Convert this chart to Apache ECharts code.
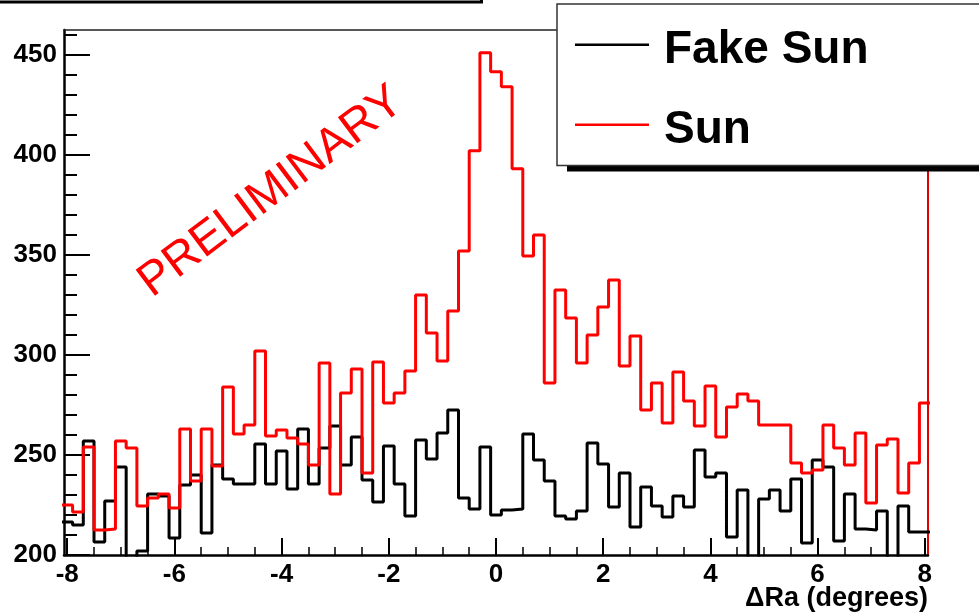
<!DOCTYPE html>
<html>
<head>
<meta charset="utf-8">
<script src="https://cdn.jsdelivr.net/npm/echarts@6/dist/echarts.min.js"></script>
<style>
  html, body { margin: 0; padding: 0; background: #fff; }
  #chart { width: 979px; height: 612px; }
</style>
</head>
<body>
<div id="chart"></div>
<script>
// Histogram bins: 81 bins of width 0.2 degrees, centred on multiples of 0.2
const BIN_WIDTH = 0.2;
const binCenters = [
  -8.0, -7.8, -7.6, -7.4, -7.2, -7.0, -6.8, -6.6, -6.4, -6.2,
  -6.0, -5.8, -5.6, -5.4, -5.2, -5.0, -4.8, -4.6, -4.4, -4.2,
  -4.0, -3.8, -3.6, -3.4, -3.2, -3.0, -2.8, -2.6, -2.4, -2.2,
  -2.0, -1.8, -1.6, -1.4, -1.2, -1.0, -0.8, -0.6, -0.4, -0.2,
   0.0,  0.2,  0.4,  0.6,  0.8,  1.0,  1.2,  1.4,  1.6,  1.8,
   2.0,  2.2,  2.4,  2.6,  2.8,  3.0,  3.2,  3.4,  3.6,  3.8,
   4.0,  4.2,  4.4,  4.6,  4.8,  5.0,  5.2,  5.4,  5.6,  5.8,
   6.0,  6.2,  6.4,  6.6,  6.8,  7.0,  7.2,  7.4,  7.6,  7.8,
   8.0
];

// Event counts per bin
const sunCounts = [
  225, 221.5, 254, 212.5, 213, 257, 253.5, 224.5, 228.5, 230.5,
  223.5, 263, 237, 263, 244.5, 284, 260.5, 265, 302, 259.5,
  262.5, 258.5, 255.5, 245, 296, 230.5, 281, 293, 241, 296.5,
  276, 281, 292, 330, 311, 297, 322, 352, 402, 451,
  441.5, 434, 393, 349.5, 360, 286, 332.5, 318.5, 296, 310,
  324, 337.5, 294.5, 309.5, 272.5, 286, 266, 291.5, 277, 264.5,
  284.5, 259, 274, 280.5, 277, 265, 265, 265, 246, 241,
  242.5, 265, 253.5, 245, 261, 226, 255, 258, 231, 246,
  276
];

const fakeSunCounts = [
  216.5, 215, 257, 206.5, 227, 244, 190, 202, 230.5, 229.5,
  208.5, 235, 240, 211, 245, 238, 235.5, 235.5, 255.5, 235.5,
  252, 233, 263, 235.5, 253.5, 264.5, 245, 259, 237.5, 226.5,
  254.5, 235.5, 219.5, 257.5, 248, 261, 272.5, 228.5, 223, 254,
  220, 222.5, 223, 260.5, 247.5, 237, 219.5, 218, 222, 256,
  245.5, 224, 241, 214, 234, 224.5, 219, 229.5, 224, 252.5,
  239, 241, 209, 232.5, 190, 228, 232.5, 222, 238, 206,
  247.5, 244, 207, 230.5, 213, 212.5, 222, 190, 224.5, 211.5,
  211.5
];

// Axis ticks
const xTickLabels = [-8, -6, -4, -2, 0, 2, 4, 6, 8];
const xMinorTicks = [-8, -7.5, -7, -6.5, -6, -5.5, -5, -4.5, -4, -3.5, -3, -2.5, -2, -1.5, -1, -0.5,
                     0, 0.5, 1, 1.5, 2, 2.5, 3, 3.5, 4, 4.5, 5, 5.5, 6, 6.5, 7, 7.5, 8];
const yTickLabels = [200, 250, 300, 350, 400, 450];
const yMinorTicks = [200, 210, 220, 230, 240, 250, 260, 270, 280, 290, 300, 310, 320, 330, 340,
                     350, 360, 370, 380, 390, 400, 410, 420, 430, 440, 450, 460];

const X_MIN = -8.06, X_MAX = 8.06;
const Y_MIN = 200, Y_MAX = 462.4;
const FONT = '"Liberation Sans", Arial, Helvetica, sans-serif';

// Turn per-bin counts into a stepped outline (left edge, right edge for every bin)
function stepOutline(counts) {
  const pts = [];
  counts.forEach((v, i) => {
    const lo = binCenters[i] - BIN_WIDTH / 2;
    const hi = binCenters[i] + BIN_WIDTH / 2;
    pts.push([lo, v], [hi, v]);
  });
  return pts;
}

const chart = echarts.init(document.getElementById('chart'), null, { renderer: 'canvas' });

const hiddenParts = {
  axisLabel: { show: false },
  splitLine: { show: false }
};

chart.setOption({
  animation: false,
  backgroundColor: '#fff',
  // x-axis title, right-aligned under the end of the axis
  title: {
    text: 'ΔRa (degrees)', right: 51, top: 585, padding: 0,
    textStyle: { color: '#000', fontSize: 27, fontWeight: 'bold', fontFamily: FONT }
  },
  grid: { left: 64, right: 51, top: 30, bottom: 57, containLabel: false, outerBoundsMode: 'none' },
  xAxis: [
    {
      type: 'value', position: 'bottom', min: X_MIN, max: X_MAX,
      axisLine: { show: true, onZero: false, lineStyle: { color: '#000', width: 2.5 } },
      axisTick: { show: true, inside: true, length: 17, customValues: xTickLabels,
                  lineStyle: { color: '#000', width: 2 } },
      axisLabel: { show: true, customValues: xTickLabels, margin: 7, color: '#000',
                   fontSize: 26, fontWeight: 'bold', fontFamily: FONT },
      splitLine: { show: false }
    },
    {
      type: 'value', position: 'bottom', min: X_MIN, max: X_MAX,
      axisLine: { show: false, onZero: false },
      axisTick: { show: true, inside: true, length: 8, customValues: xMinorTicks,
                  lineStyle: { color: '#000', width: 1.5 } },
      ...hiddenParts
    },
    {
      type: 'value', position: 'top', min: X_MIN, max: X_MAX,
      axisLine: { show: true, onZero: false, lineStyle: { color: '#222', width: 1.5 } },
      axisTick: { show: false },
      ...hiddenParts
    }
  ],
  yAxis: [
    {
      type: 'value', position: 'left', min: Y_MIN, max: Y_MAX,
      axisLine: { show: true, onZero: false, lineStyle: { color: '#000', width: 2.5 } },
      axisTick: { show: true, inside: true, length: 26, customValues: yTickLabels,
                  lineStyle: { color: '#000', width: 2 } },
      axisLabel: { show: true, customValues: yTickLabels, margin: 7, color: '#000',
                   fontSize: 26, fontWeight: 'bold', fontFamily: FONT },
      splitLine: { show: false }
    },
    {
      type: 'value', position: 'left', min: Y_MIN, max: Y_MAX,
      axisLine: { show: false, onZero: false },
      axisTick: { show: true, inside: true, length: 13, customValues: yMinorTicks,
                  lineStyle: { color: '#000', width: 2 } },
      ...hiddenParts
    },
    {
      type: 'value', position: 'right', min: Y_MIN, max: Y_MAX,
      axisLine: { show: true, onZero: false, lineStyle: { color: '#e00000', width: 2 } },
      axisTick: { show: false },
      ...hiddenParts
    }
  ],
  legend: {
    orient: 'vertical', left: 570, top: 20, z: 10,
    // line sample sitting a little above the middle of the label
    icon: 'path://M0,0H74V2.5H0Z M0,12.9H0.05V13H0Z',
    itemWidth: 74, itemHeight: 13, itemGap: 30,
    selectedMode: false,
    textStyle: { fontSize: 46, fontWeight: 'bold', color: '#000', fontFamily: FONT,
                 lineHeight: 50, padding: [0, 0, 0, 10] },
    data: ['Fake Sun', 'Sun']
  },
  graphic: [
    { type: 'rect', z: 3, shape: { x: -10, y: -40, width: 491.5, height: 42 },
      style: { fill: '#fff', stroke: '#000', lineWidth: 3 } },
    { type: 'rect', z: 3, shape: { x: 567, y: 165.5, width: 420, height: 6 },
      style: { fill: '#000' } },
    { type: 'rect', z: 3, shape: { x: 557, y: 4, width: 430, height: 161.5 },
      style: { fill: '#fff', stroke: '#333', lineWidth: 1.5 } },
    { type: 'text', z: 3, x: 271, y: 192, rotation: 37 * Math.PI / 180,
      style: { text: 'PRELIMINARY', fill: '#ff0000', font: '47px ' + FONT,
               align: 'center', verticalAlign: 'middle' } }
  ],
  series: [
    {
      name: 'Fake Sun', type: 'line', xAxisIndex: 0, yAxisIndex: 0,
      data: stepOutline(fakeSunCounts), symbol: 'none', clip: true,
      color: '#000', lineStyle: { color: '#000', width: 3 }
    },
    {
      name: 'Sun', type: 'line', xAxisIndex: 0, yAxisIndex: 0,
      data: stepOutline(sunCounts), symbol: 'none', clip: true,
      color: '#ff0000', lineStyle: { color: '#ff0000', width: 3 }
    }
  ]
});
</script>
</body>
</html>
